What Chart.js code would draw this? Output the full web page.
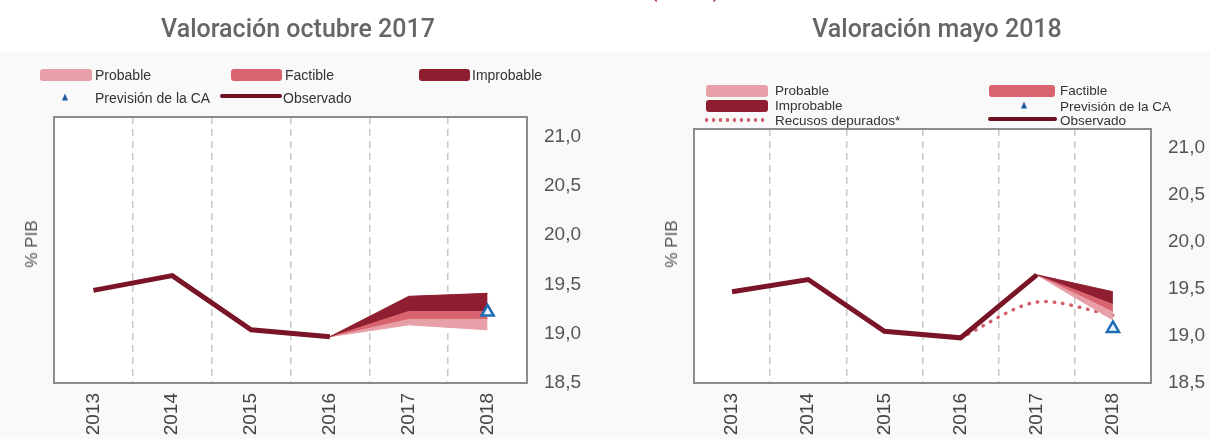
<!DOCTYPE html>
<html>
<head>
<meta charset="utf-8">
<script src="https://cdn.jsdelivr.net/npm/chart.js@4.4.1/dist/chart.umd.min.js"></script>
<style>
  html, body { margin: 0; padding: 0; width: 1210px; height: 439px; overflow: hidden; background: #fff; }
  body { position: relative; font-family: "Liberation Sans", Arial, sans-serif; }
  #panel { position: absolute; left: 0; top: 52px; width: 1210px; height: 387px; background: #f9f9f9; }
  canvas { position: absolute; top: 0; }
  .title { position: absolute; top: 14px; font: 500 25px Roboto, sans-serif; color: #666; white-space: nowrap; transform: translateX(-50%); }
  .cut { position: absolute; left: 650px; top: -23px; font: 22px Roboto, sans-serif; color: #a8233b; }
  .ytitle { position: absolute; top: 244px; font-size: 17px; color: #555; white-space: nowrap; transform: translate(-50%, -50%) rotate(-90deg); }
  .lt { position: absolute; font-size: 14px; color: #333; white-space: nowrap; line-height: 1; transform: translateY(-50%); }
  .lt.r { font-size: 13.5px; }
  .sw { position: absolute; height: 12px; border-radius: 3px; }
  .ln { position: absolute; height: 4px; border-radius: 2px; background: #6d1020; }
  .tri { position: absolute; width: 0; height: 0; border-left: 3.5px solid transparent; border-right: 3.5px solid transparent; border-bottom: 7px solid #1d5c9e; transform: translate(-50%, -50%); }
  .dots { position: absolute; height: 4px; background: radial-gradient(circle, #d45f6c 1.6px, transparent 2.1px) repeat-x; background-size: 7px 4px; }
</style>
</head>
<body>
<div id="panel"></div>
<canvas id="chartOct" width="605" height="439" style="left:0"></canvas>
<canvas id="chartMay" width="605" height="439" style="left:605px"></canvas>

<div class="cut">(% PIB)</div>
<div class="title" style="left:298px">Valoración octubre 2017</div>
<div class="title" style="left:937px">Valoración mayo 2018</div>
<div class="ytitle" style="left:32px">% PIB</div>
<div class="ytitle" style="left:672px">% PIB</div>

<!-- legend: Valoración octubre 2017 -->
<div class="sw" style="left:40px;top:69px;width:52px;background:#e8a0a8"></div>
<div class="lt" style="left:95px;top:75px">Probable</div>
<div class="sw" style="left:231px;top:69px;width:51px;background:#d9646f"></div>
<div class="lt" style="left:285px;top:75px">Factible</div>
<div class="sw" style="left:419px;top:69px;width:51px;background:#8f1f30"></div>
<div class="lt" style="left:472px;top:75px">Improbable</div>
<div class="tri" style="left:65px;top:97px"></div>
<div class="lt" style="left:95px;top:98px">Previsión de la CA</div>
<div class="ln" style="left:220px;top:94px;width:62px"></div>
<div class="lt" style="left:283px;top:98px">Observado</div>

<!-- legend: Valoración mayo 2018 -->
<div class="sw" style="left:706px;top:85px;width:62px;background:#e8a0a8"></div>
<div class="lt r" style="left:775px;top:91px">Probable</div>
<div class="sw" style="left:989px;top:85px;width:66px;background:#d9646f"></div>
<div class="lt r" style="left:1060px;top:91px">Factible</div>
<div class="sw" style="left:706px;top:100px;width:62px;background:#8f1f30"></div>
<div class="lt r" style="left:775px;top:106px">Improbable</div>
<div class="tri" style="left:1024px;top:105px"></div>
<div class="lt r" style="left:1060px;top:107px">Previsión de la CA</div>
<div class="dots" style="left:703px;top:118px;width:63px"></div>
<div class="lt r" style="left:775px;top:121px">Recusos depurados*</div>
<div class="ln" style="left:988px;top:117px;width:69px"></div>
<div class="lt r" style="left:1060px;top:121px">Observado</div>

<script>
const years = ["2013", "2014", "2015", "2016", "2017", "2018"];
const yTicks = [18.5, 19.0, 19.5, 20.0, 20.5, 21.0];

// Valoración octubre 2017
const obsOct = [19.44, 19.59, 19.04, 18.97, null, null];
const improbOct = [null, null, null, 18.97, 19.38, 19.41];
const factOct = [null, null, null, 18.97, 19.23, 19.23];
const probOct = [null, null, null, 18.97, 19.15, 19.15];
const bottomOct = [null, null, null, 18.97, 19.09, 19.04];
const caOct = [null, null, null, null, null, 19.22];

// Valoración mayo 2018
const obsMay = [19.47, 19.60, 19.05, 18.98, 19.65, null];
const improbMay = [null, null, null, null, 19.65, 19.47];
const factMay = [null, null, null, null, 19.65, 19.34];
const probMay = [null, null, null, null, 19.65, 19.26];
const bottomMay = [null, null, null, null, 19.65, 19.17];
const depuradosMay = [null, null, null, 18.98, 19.36, 19.22];
const caMay = [null, null, null, null, null, 19.08];

const C_PROB = "#e8a0a8";
const C_FACT = "#d9646f";
const C_IMPROB = "#8f1f30";
const C_OBS = "#7a1528";

// white plot area + grey frame
const boxPlugin = {
  id: "box",
  beforeDraw(chart) {
    const { ctx, chartArea: a } = chart;
    ctx.save();
    ctx.fillStyle = "#fff";
    ctx.fillRect(a.left, a.top, a.width, a.height);
    ctx.restore();
  },
  beforeDatasetsDraw(chart) {
    const { ctx, chartArea: a } = chart;
    ctx.save();
    ctx.strokeStyle = "#8c8c8c";
    ctx.lineWidth = 2;
    ctx.strokeRect(a.left, a.top, a.width, a.height);
    ctx.restore();
  },
};

function fanSets(improb, fact, prob, bottom) {
  return [
    { data: improb, borderColor: C_IMPROB, borderWidth: 1, backgroundColor: C_IMPROB, fill: "+1" },
    { data: fact, borderColor: C_FACT, borderWidth: 1, backgroundColor: C_FACT, fill: "+1" },
    { data: prob, borderColor: C_PROB, borderWidth: 1, backgroundColor: C_PROB, fill: "+1" },
    { data: bottom, borderColor: C_PROB, borderWidth: 1, fill: false },
  ];
}

function caSet(data) {
  return {
    data,
    showLine: false,
    pointStyle: "triangle",
    pointRadius: 7,
    pointBorderWidth: 2.5,
    pointBorderColor: "#1f6db5",
    pointBackgroundColor: "#eaf3fb",
  };
}

function obsSet(data) {
  return { data, borderColor: C_OBS, borderWidth: 5, fill: false, borderJoinStyle: "miter" };
}

function makeChart(id, datasets, padLeft, padTop, yWidth) {
  return new Chart(document.getElementById(id), {
    type: "line",
    data: { labels: years, datasets },
    options: {
      responsive: false,
      animation: false,
      layout: { padding: { left: padLeft, top: padTop, right: 0, bottom: 0 } },
      plugins: { legend: { display: false }, tooltip: { enabled: false } },
      elements: { point: { radius: 0 }, line: { tension: 0 } },
      scales: {
        x: {
          offset: true,
          grid: { offset: true, color: "#c8c8c8", lineWidth: 1.5, drawTicks: false },
          border: { display: false, dash: [7, 5] },
          ticks: {
            minRotation: 90,
            maxRotation: 90,
            padding: 10,
            color: "#444",
            font: { family: "Liberation Sans", size: 19 },
          },
          afterFit: (s) => { s.height = 56; },
        },
        y: {
          position: "right",
          min: 18.5,
          max: 21.2,
          grid: { display: false, drawTicks: false },
          border: { display: false },
          ticks: {
            padding: 17,
            color: "#555",
            font: { family: "Liberation Sans", size: 19 },
            callback: (v) => v.toFixed(1).replace(".", ","),
          },
          afterBuildTicks: (s) => { s.ticks = yTicks.map((v) => ({ value: v })); },
          afterFit: (s) => { s.width = yWidth; },
        },
      },
    },
    plugins: [boxPlugin],
  });
}

makeChart(
  "chartOct",
  [caSet(caOct), obsSet(obsOct), ...fanSets(improbOct, factOct, probOct, bottomOct)],
  54, 117, 78
);

makeChart(
  "chartMay",
  [
    caSet(caMay),
    obsSet(obsMay),
    ...fanSets(improbMay, factMay, probMay, bottomMay),
    {
      data: depuradosMay,
      borderColor: "#d45f6c",
      borderWidth: 3.5,
      borderDash: [0.5, 8],
      borderCapStyle: "round",
      tension: 0.3,
      fill: false,
    },
  ],
  89, 129, 59
);
</script>
</body>
</html>
